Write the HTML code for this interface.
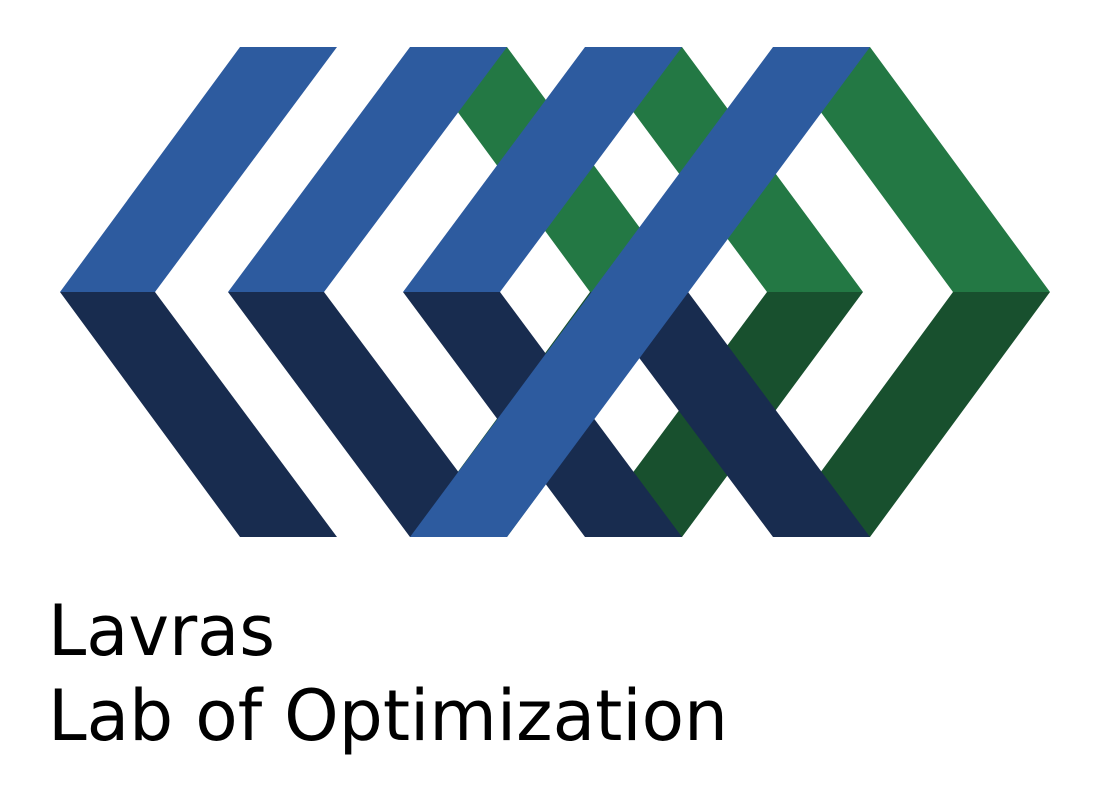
<!DOCTYPE html>
<html><head><meta charset="utf-8"><style>html,body{margin:0;padding:0;background:#fff}svg{display:block}</style></head>
<body>
<svg width="1102" height="794" viewBox="0 0 1102 794" xmlns="http://www.w3.org/2000/svg">
<g fill="#237844">
<polygon points="410,47 507,47 687,292 590,292"/>
<polygon points="585,47 682,47 863,292 767,292"/>
<polygon points="773,47 870,47 1050,292 953,292"/>
</g>
<g fill="#18502e">
<polygon points="590,292 687,292 507,537 410,537"/>
<polygon points="767,292 863,292 682,537 585,537"/>
<polygon points="953,292 1050,292 870,537 773,537"/>
</g>
<g fill="#182c4f">
<polygon points="60,292 155,292 337,537 240,537"/>
<polygon points="228,292 324,292 507,537 410,537"/>
<polygon points="403,292 500,292 682,537 585,537"/>
<polygon points="590,292 688,292 870,537 773,537"/>
</g>
<g fill="#2d5b9f">
<polygon points="240,47 337,47 155,292 60,292"/>
<polygon points="410,47 507,47 324,292 228,292"/>
<polygon points="585,47 682,47 500,292 403,292"/>
<polygon points="773,47 870,47 507,537 410,537"/>
</g>
<g font-family="DejaVu Sans, Liberation Sans, sans-serif" font-size="70" fill="#000">
<text x="48" y="655" textLength="227" lengthAdjust="spacingAndGlyphs">Lavras</text>
<text x="48" y="740" textLength="680" lengthAdjust="spacingAndGlyphs">Lab of Optimization</text>
</g>
</svg>
</body></html>
